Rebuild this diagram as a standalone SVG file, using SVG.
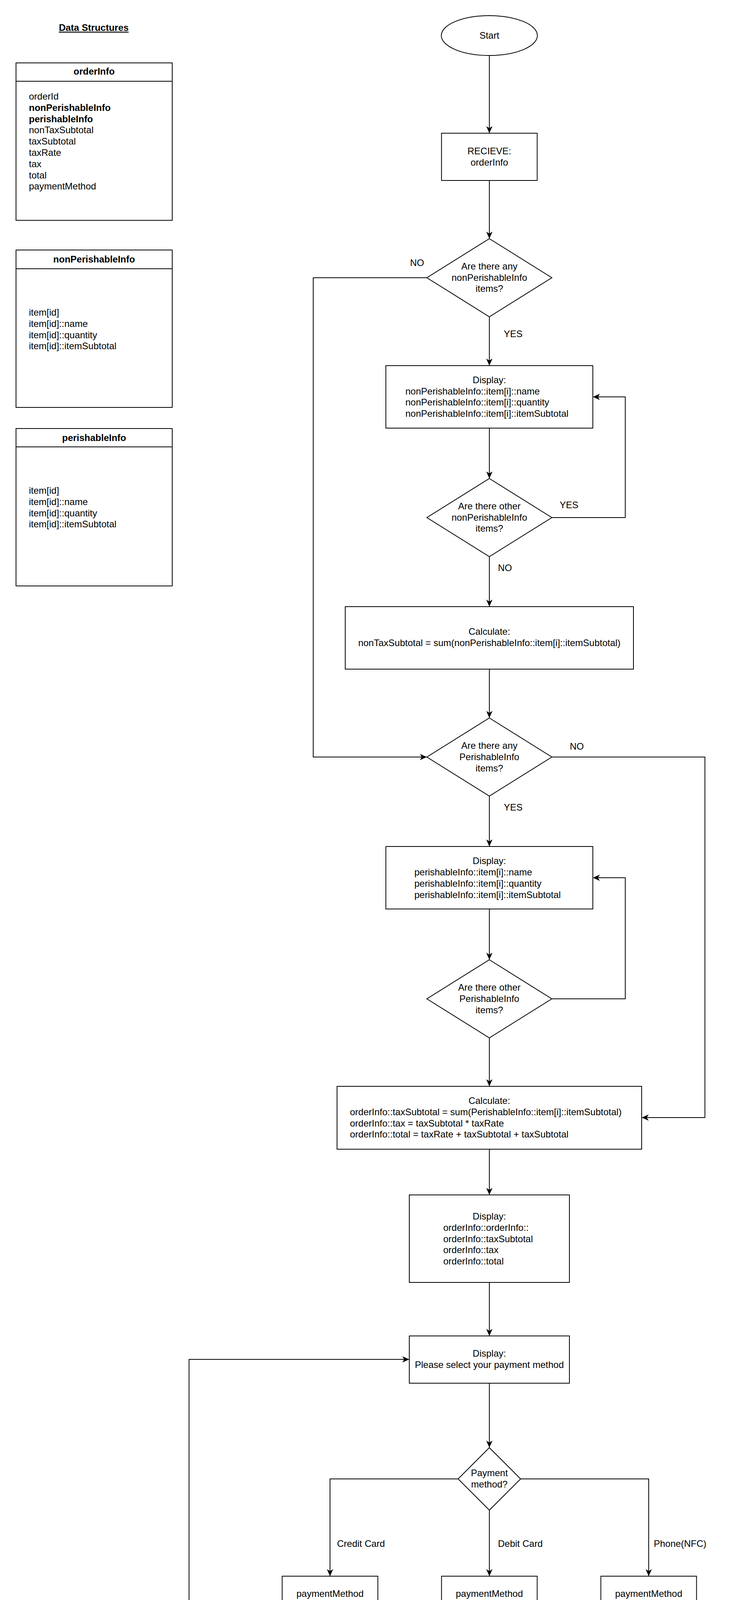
<svg xmlns="http://www.w3.org/2000/svg" width="1882" height="5722" viewBox="0 0 1882 5722">
<defs>
<style>
.n{fill:#fff;stroke:#000;stroke-width:2}
.t{font-family:"Liberation Sans",Arial,Helvetica,sans-serif;font-size:24px;fill:#000}
.c{text-anchor:middle}
.b{font-weight:bold}
.e{fill:none;stroke:#000;stroke-width:2}
</style>
<marker id="arr" viewBox="0 0 18 16" refX="18" refY="8" markerWidth="18" markerHeight="16" markerUnits="userSpaceOnUse" orient="auto">
<path d="M0,0 L18,8 L0,16 L5,8 Z" fill="#000"/>
</marker>
</defs>
<rect width="1882" height="5722" fill="#fff"/>

<g id="data-structures">
<text class="t b c" x="240" y="79" text-decoration="underline">Data Structures</text>
<g id="orderInfo">
<rect class="n" x="41" y="161" width="400" height="403"/>
<line class="e" x1="41" y1="208" x2="441" y2="208"/>
<text class="t b c" x="241" y="191">orderInfo</text>
<text class="t" x="74" y="255">orderId</text>
<text class="t b" x="74" y="283.8">nonPerishableInfo</text>
<text class="t b" x="74" y="312.6">perishableInfo</text>
<text class="t" x="74" y="341.4">nonTaxSubtotal</text>
<text class="t" x="74" y="370.2">taxSubtotal</text>
<text class="t" x="74" y="399">taxRate</text>
<text class="t" x="74" y="427.8">tax</text>
<text class="t" x="74" y="456.6">total</text>
<text class="t" x="74" y="485.4">paymentMethod</text>
</g>
<g id="nonPerishableInfo">
<rect class="n" x="41" y="640" width="400" height="403"/>
<line class="e" x1="41" y1="688" x2="441" y2="688"/>
<text class="t b c" x="241" y="672">nonPerishableInfo</text>
<text class="t" x="74" y="808">item[id]</text>
<text class="t" x="74" y="836.8">item[id]::name</text>
<text class="t" x="74" y="865.6">item[id]::quantity</text>
<text class="t" x="74" y="894.4">item[id]::itemSubtotal</text>
</g>
<g id="perishableInfo">
<rect class="n" x="41" y="1097" width="400" height="403"/>
<line class="e" x1="41" y1="1144" x2="441" y2="1144"/>
<text class="t b c" x="241" y="1129">perishableInfo</text>
<text class="t" x="74" y="1264">item[id]</text>
<text class="t" x="74" y="1292.8">item[id]::name</text>
<text class="t" x="74" y="1321.6">item[id]::quantity</text>
<text class="t" x="74" y="1350.4">item[id]::itemSubtotal</text>
</g>
</g>

<g id="connectors">
<path class="e" d="M1253,142 V341" marker-end="url(#arr)"/>
<path class="e" d="M1253,462 V611" marker-end="url(#arr)"/>
<path class="e" d="M1253,811 V936" marker-end="url(#arr)"/>
<path class="e" d="M1253,1096 V1225" marker-end="url(#arr)"/>
<path class="e" d="M1413,1325 H1601 V1016 H1518" marker-end="url(#arr)"/>
<path class="e" d="M1253,1425 V1553" marker-end="url(#arr)"/>
<path class="e" d="M1253,1713 V1838" marker-end="url(#arr)"/>
<path class="e" d="M1093,711 H802 V1938 H1093" marker-end="url(#arr)"/>
<path class="e" d="M1253,2038 V2167" marker-end="url(#arr)"/>
<path class="e" d="M1253,2327 V2457" marker-end="url(#arr)"/>
<path class="e" d="M1413,2557 H1601 V2247 H1518" marker-end="url(#arr)"/>
<path class="e" d="M1253,2657 V2781" marker-end="url(#arr)"/>
<path class="e" d="M1413,1938 H1805 V2861 H1643" marker-end="url(#arr)"/>
<path class="e" d="M1253,2942 V3059" marker-end="url(#arr)"/>
<path class="e" d="M1253,3283 V3420" marker-end="url(#arr)"/>
<path class="e" d="M1253,3541 V3706" marker-end="url(#arr)"/>
<path class="e" d="M1173,3786 H845 V4035" marker-end="url(#arr)"/>
<path class="e" d="M1253,3866 V4035" marker-end="url(#arr)"/>
<path class="e" d="M1333,3786 H1661 V4035" marker-end="url(#arr)"/>
<path class="e" d="M845,4156 V4249 H1661 V4156"/>
<path class="e" d="M1253,4156 V4342" marker-end="url(#arr)"/>
<path class="e" d="M1253,4462 V4628" marker-end="url(#arr)"/>
<path class="e" d="M1173,4708 H664" marker-end="url(#arr)"/>
<path class="e" d="M484,4628 V3480 H1048" marker-end="url(#arr)"/>
<path class="e" d="M1253,4788 V4958" marker-end="url(#arr)"/>
<path class="e" d="M1253,5078 V5231" marker-end="url(#arr)"/>
<path class="e" d="M1253,5438 V5602" marker-end="url(#arr)"/>
<text class="t" x="1050" y="681">NO</text>
<text class="t" x="1290" y="863">YES</text>
<text class="t" x="1433" y="1301">YES</text>
<text class="t" x="1275" y="1462">NO</text>
<text class="t" x="1459" y="1919">NO</text>
<text class="t" x="1290" y="2075">YES</text>
<text class="t" x="863" y="3960">Credit Card</text>
<text class="t" x="1275" y="3960">Debit Card</text>
<text class="t" x="1674" y="3960">Phone(NFC)</text>
<text class="t" x="1095" y="4691">NO</text>
<text class="t" x="1290" y="4825">YES</text>
</g>

<g id="start">
<ellipse class="n" cx="1253" cy="91" rx="123" ry="51"/>
<text class="t c" x="1253" y="99">Start</text>
</g>
<g id="receive">
<rect class="n" x="1130.5" y="341" width="245" height="121"/>
<text class="t c" x="1253" y="395">RECIEVE:</text>
<text class="t c" x="1253" y="424">orderInfo</text>
</g>
<g id="dec-any-nonperishable">
<polygon class="n" points="1253,611 1413,711 1253,811 1093,711"/>
<text class="t c" x="1253" y="690">Are there any</text>
<text class="t c" x="1253" y="718.5">nonPerishableInfo</text>
<text class="t c" x="1253" y="747">items?</text>
</g>
<g id="display-nonperishable">
<rect class="n" x="988" y="936" width="530" height="160"/>
<text class="t c" x="1253" y="981">Display:</text>
<text class="t" x="1038" y="1009.5">nonPerishableInfo::item[i]::name</text>
<text class="t" x="1038" y="1038">nonPerishableInfo::item[i]::quantity</text>
<text class="t" x="1038" y="1066.8">nonPerishableInfo::item[i]::itemSubtotal</text>
</g>
<g id="dec-other-nonperishable">
<polygon class="n" points="1253,1225 1413,1325 1253,1425 1093,1325"/>
<text class="t c" x="1253" y="1304">Are there other</text>
<text class="t c" x="1253" y="1332.5">nonPerishableInfo</text>
<text class="t c" x="1253" y="1361">items?</text>
</g>
<g id="calc-nontax">
<rect class="n" x="884" y="1553" width="738" height="160"/>
<text class="t c" x="1253" y="1625">Calculate:</text>
<text class="t c" x="1253" y="1654">nonTaxSubtotal = sum(nonPerishableInfo::item[i]::itemSubtotal)</text>
</g>
<g id="dec-any-perishable">
<polygon class="n" points="1253,1838 1413,1938 1253,2038 1093,1938"/>
<text class="t c" x="1253" y="1917">Are there any</text>
<text class="t c" x="1253" y="1946">PerishableInfo</text>
<text class="t c" x="1253" y="1975">items?</text>
</g>
<g id="display-perishable">
<rect class="n" x="988" y="2167" width="530" height="160"/>
<text class="t c" x="1253" y="2212">Display:</text>
<text class="t" x="1061" y="2241">perishableInfo::item[i]::name</text>
<text class="t" x="1061" y="2270">perishableInfo::item[i]::quantity</text>
<text class="t" x="1061" y="2299">perishableInfo::item[i]::itemSubtotal</text>
</g>
<g id="dec-other-perishable">
<polygon class="n" points="1253,2457 1413,2557 1253,2657 1093,2557"/>
<text class="t c" x="1253" y="2536">Are there other</text>
<text class="t c" x="1253" y="2565">PerishableInfo</text>
<text class="t c" x="1253" y="2594">items?</text>
</g>
<g id="calc-tax">
<rect class="n" x="863" y="2781" width="780" height="161"/>
<text class="t c" x="1253" y="2826">Calculate:</text>
<text class="t" x="896" y="2854.8">orderInfo::taxSubtotal = sum(PerishableInfo::item[i]::itemSubtotal)</text>
<text class="t" x="896" y="2883.6">orderInfo::tax = taxSubtotal * taxRate</text>
<text class="t" x="896" y="2912.4">orderInfo::total = taxRate + taxSubtotal + taxSubtotal</text>
</g>
<g id="display-order">
<rect class="n" x="1048" y="3059" width="410" height="224"/>
<text class="t c" x="1253" y="3122">Display:</text>
<text class="t" x="1135" y="3150.8">orderInfo::orderInfo::</text>
<text class="t" x="1135" y="3179.6">orderInfo::taxSubtotal</text>
<text class="t" x="1135" y="3208.4">orderInfo::tax</text>
<text class="t" x="1135" y="3237.2">orderInfo::total</text>
</g>
<g id="display-select-payment">
<rect class="n" x="1048" y="3420" width="410" height="121"/>
<text class="t c" x="1253" y="3473">Display:</text>
<text class="t c" x="1253" y="3502">Please select your payment method</text>
</g>
<g id="dec-payment-method">
<polygon class="n" points="1253,3706 1333,3786 1253,3866 1173,3786"/>
<text class="t c" x="1253" y="3779">Payment</text>
<text class="t c" x="1253" y="3808">method?</text>
</g>
<g id="method-credit">
<rect class="n" x="722.5" y="4035" width="245" height="121"/>
<text class="t c" x="845" y="4088">paymentMethod</text>
<text class="t c" x="845" y="4117">= Credit Card</text>
</g>
<g id="method-debit">
<rect class="n" x="1130.5" y="4035" width="245" height="121"/>
<text class="t c" x="1253" y="4088">paymentMethod</text>
<text class="t c" x="1253" y="4117">= Debit Card</text>
</g>
<g id="method-phone">
<rect class="n" x="1538.5" y="4035" width="245" height="121"/>
<text class="t c" x="1661" y="4088">paymentMethod</text>
<text class="t c" x="1661" y="4117">= Phone(NFC)</text>
</g>
<g id="payment-process">
<rect class="n" x="1130.5" y="4342" width="245" height="120"/>
<text class="t c" x="1253" y="4396">Payment process</text>
<text class="t c" x="1253" y="4425">(Blackbox)</text>
</g>
<g id="dec-payment-succeed">
<polygon class="n" points="1253,4628 1333,4708 1253,4788 1173,4708"/>
<text class="t c" x="1253" y="4700">Payment</text>
<text class="t c" x="1253" y="4729">Succeed?</text>
</g>
<g id="display-fail">
<rect class="n" x="304" y="4628" width="360" height="160"/>
<text class="t c" x="484" y="4673">Display:</text>
<text class="t c" x="484" y="4701.8">Your payment is fail.</text>
<text class="t c" x="484" y="4730.6">Please try again.</text>
<text class="t c" x="484" y="4759.4">Or call a staff to help you.</text>
</g>
<g id="print-receipt">
<rect class="n" x="1093" y="4958" width="320" height="120"/>
<text class="t c" x="1253" y="5026">Print out a paper receipt</text>
</g>
<g id="display-approved">
<rect class="n" x="1066" y="5231" width="374" height="207"/>
<text class="t c" x="1253" y="5283">Display:</text>
<text class="t c" x="1253" y="5312">Your payment is approved.</text>
<text class="t c" x="1253" y="5341">Please take your receipt.</text>
<text class="t c" x="1253" y="5370">Thank you for visiting.</text>
<text class="t c" x="1253" y="5399">See you next time!</text>
</g>
<g id="end">
<ellipse class="n" cx="1253" cy="5653" rx="123" ry="51"/>
<text class="t c" x="1253" y="5661">End</text>
</g>
</svg>
